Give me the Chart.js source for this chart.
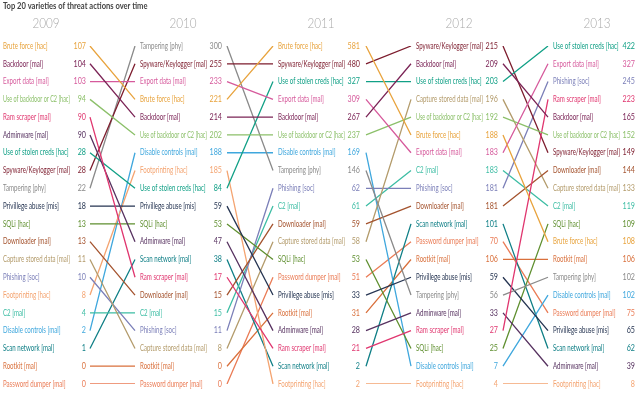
<!DOCTYPE html>
<html>
<head>
<meta charset="utf-8">
<script src="https://cdn.jsdelivr.net/npm/chart.js@4"></script>
<style>
  body { margin: 0; background: #fff; }
  #wrap { width: 640px; height: 393px; position: relative; }
</style>
</head>
<body>
<div id="wrap"><canvas id="myChart"></canvas></div>
<script>
// years shown as columns
const years = ['2009', '2010', '2011', '2012', '2013'];

// order of varieties in each column (top to bottom) and their counts
const order2009 = ['Brute force [hac]', 'Backdoor [mal]', 'Export data [mal]', 'Use of backdoor or C2 [hac]', 'Ram scraper [mal]', 'Adminware [mal]', 'Use of stolen creds [hac]', 'Spyware/Keylogger [mal]', 'Tampering [phy]', 'Privillege abuse [mis]', 'SQLi [hac]', 'Downloader [mal]', 'Capture stored data [mal]', 'Phishing [soc]', 'Footprinting [hac]', 'C2 [mal]', 'Disable controls [mal]', 'Scan network [mal]', 'Rootkit [mal]', 'Password dumper [mal]'];
const values2009 = [107, 104, 103, 94, 90, 90, 28, 28, 22, 18, 13, 13, 11, 10, 8, 4, 2, 1, 0, 0];

const order2010 = ['Tampering [phy]', 'Spyware/Keylogger [mal]', 'Export data [mal]', 'Brute force [hac]', 'Backdoor [mal]', 'Use of backdoor or C2 [hac]', 'Disable controls [mal]', 'Footprinting [hac]', 'Use of stolen creds [hac]', 'Privillege abuse [mis]', 'SQLi [hac]', 'Adminware [mal]', 'Scan network [mal]', 'Ram scraper [mal]', 'Downloader [mal]', 'C2 [mal]', 'Phishing [soc]', 'Capture stored data [mal]', 'Rootkit [mal]', 'Password dumper [mal]'];
const values2010 = [300, 255, 233, 221, 214, 202, 188, 185, 84, 59, 53, 47, 38, 17, 15, 15, 11, 8, 0, 0];

const order2011 = ['Brute force [hac]', 'Spyware/Keylogger [mal]', 'Use of stolen creds [hac]', 'Export data [mal]', 'Backdoor [mal]', 'Use of backdoor or C2 [hac]', 'Disable controls [mal]', 'Tampering [phy]', 'Phishing [soc]', 'C2 [mal]', 'Downloader [mal]', 'Capture stored data [mal]', 'SQLi [hac]', 'Password dumper [mal]', 'Privillege abuse [mis]', 'Rootkit [mal]', 'Adminware [mal]', 'Ram scraper [mal]', 'Scan network [mal]', 'Footprinting [hac]'];
const values2011 = [581, 480, 327, 309, 267, 237, 169, 146, 62, 61, 59, 58, 53, 51, 33, 31, 28, 21, 2, 2];

const order2012 = ['Spyware/Keylogger [mal]', 'Backdoor [mal]', 'Use of stolen creds [hac]', 'Capture stored data [mal]', 'Use of backdoor or C2 [hac]', 'Brute force [hac]', 'Export data [mal]', 'C2 [mal]', 'Phishing [soc]', 'Downloader [mal]', 'Scan network [mal]', 'Password dumper [mal]', 'Rootkit [mal]', 'Privillege abuse [mis]', 'Tampering [phy]', 'Adminware [mal]', 'Ram scraper [mal]', 'SQLi [hac]', 'Disable controls [mal]', 'Footprinting [hac]'];
const values2012 = [215, 209, 203, 196, 192, 188, 183, 183, 181, 181, 101, 70, 106, 59, 56, 33, 27, 25, 7, 4];

const order2013 = ['Use of stolen creds [hac]', 'Export data [mal]', 'Phishing [soc]', 'Ram scraper [mal]', 'Backdoor [mal]', 'Use of backdoor or C2 [hac]', 'Spyware/Keylogger [mal]', 'Downloader [mal]', 'Capture stored data [mal]', 'C2 [mal]', 'SQLi [hac]', 'Brute force [hac]', 'Rootkit [mal]', 'Tampering [phy]', 'Disable controls [mal]', 'Password dumper [mal]', 'Privillege abuse [mis]', 'Scan network [mal]', 'Adminware [mal]', 'Footprinting [hac]'];
const values2013 = [422, 327, 245, 223, 165, 152, 149, 144, 133, 119, 109, 108, 106, 102, 102, 75, 65, 62, 39, 8];

const orders = [order2009, order2010, order2011, order2012, order2013];
const values = [values2009, values2010, values2011, values2012, values2013];

// colour of each variety
const colors = {
    'Brute force [hac]': '#e8a33d',
    'Backdoor [mal]': '#7b2456',
    'Export data [mal]': '#d65a9c',
    'Use of backdoor or C2 [hac]': '#8cc06a',
    'Ram scraper [mal]': '#e0366f',
    'Adminware [mal]': '#573260',
    'Use of stolen creds [hac]': '#11a086',
    'Spyware/Keylogger [mal]': '#7d1d2e',
    'Tampering [phy]': '#8a8a8a',
    'Privillege abuse [mis]': '#263552',
    'SQLi [hac]': '#5f8f2f',
    'Downloader [mal]': '#a4532e',
    'Capture stored data [mal]': '#b39b6b',
    'Phishing [soc]': '#7b7fb8',
    'Footprinting [hac]': '#f4a471',
    'C2 [mal]': '#3dbda4',
    'Disable controls [mal]': '#3fa7dd',
    'Scan network [mal]': '#0f7f86',
    'Rootkit [mal]': '#d9703c',
    'Password dumper [mal]': '#ea7b55'
};

// column layout (x in canvas px units of the x scale)
const labelX = [3, 140, 278, 416, 553];
const valueX = [86, 222, 360, 498, 635];
const yearX = [46, 183, 321, 459, 597];
const lineFrom = [90, 227, 366, 503];
const lineTo = [135, 273, 411, 548];
const FONT = 'Lato, "Open Sans", sans-serif';
// the original uses a condensed face, so squeeze text horizontally
const LABEL_SQUEEZE = 0.72;
const LABEL_MAX_W = 67;
const VALUE_SQUEEZE = 0.84;

const datasets = order2009.map(name => {
    const data = [];
    for (let i = 0; i < years.length - 1; i++) {
        data.push({ x: lineFrom[i], y: orders[i].indexOf(name) + 1 });
        data.push({ x: lineTo[i], y: orders[i + 1].indexOf(name) + 1 });
        data.push({ x: lineTo[i] + 1, y: null });
    }
    return {
        label: name,
        data: data,
        borderColor: colors[name],
        backgroundColor: colors[name],
        borderWidth: 1.3,
        pointRadius: 0,
        tension: 0,
        spanGaps: false
    };
});

function squeezedText(ctx, text, x, y, align, k) {
    ctx.save();
    ctx.translate(x, y);
    ctx.scale(k, 1);
    ctx.textAlign = align;
    ctx.fillText(text, 0, 0);
    ctx.restore();
}

const textPlugin = {
    id: 'bumpText',
    afterDatasetsDraw(chart) {
        const ctx = chart.ctx;
        const xs = chart.scales.x;
        const ys = chart.scales.y;
        ctx.save();
        ctx.textBaseline = 'middle';

        ctx.fillStyle = '#444';
        ctx.font = 'bold 9px ' + FONT;
        squeezedText(ctx, 'Top 20 varieties of threat actions over time', 3, 6, 'left', 0.84);

        ctx.font = '300 13px ' + FONT;
        ctx.fillStyle = '#a8a8a8';
        years.forEach((y, i) => squeezedText(ctx, y, xs.getPixelForValue(yearX[i]), 24, 'center', 0.9));

        ctx.font = '8.5px ' + FONT;
        orders.forEach((list, i) => {
            list.forEach((name, r) => {
                const py = ys.getPixelForValue(r + 1);
                const w = ctx.measureText(name).width;
                const k = Math.min(LABEL_SQUEEZE, LABEL_MAX_W / w);
                ctx.fillStyle = colors[name];
                squeezedText(ctx, name, xs.getPixelForValue(labelX[i]), py, 'left', k);
                squeezedText(ctx, String(values[i][r]), xs.getPixelForValue(valueX[i]), py, 'right', VALUE_SQUEEZE);
            });
        });
        ctx.restore();
    }
};

const ctx = document.getElementById('myChart').getContext('2d');
new Chart(ctx, {
    type: 'line',
    data: { datasets: datasets },
    options: {
        responsive: true,
        maintainAspectRatio: false,
        animation: false,
        layout: { padding: { top: 46, bottom: 9, left: 0, right: 0 } },
        scales: {
            x: { type: 'linear', display: false, min: 0, max: 640 },
            y: { display: false, min: 1, max: 20, reverse: true }
        },
        plugins: {
            legend: { display: false },
            tooltip: { enabled: false }
        }
    },
    plugins: [textPlugin]
});
</script>
</body>
</html>
